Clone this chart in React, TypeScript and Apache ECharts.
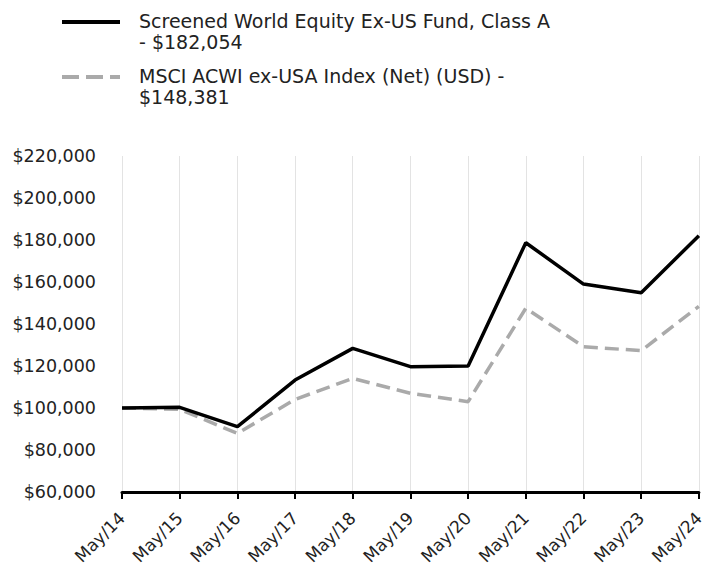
import React, { useEffect, useRef } from "react";
import * as echarts from "echarts";

const categories = ["May/14", "May/15", "May/16", "May/17", "May/18", "May/19", "May/20", "May/21", "May/22", "May/23", "May/24"];
const fundValues = [100000, 100300, 91100, 113300, 128400, 119700, 120000, 178700, 159000, 154900, 182054];
const indexValues = [100000, 99400, 87900, 104100, 114100, 107000, 103000, 147500, 129200, 127300, 148381];
const fundName = "Screened World Equity Ex-US Fund, Class A\n- $182,054";
const indexName = "MSCI ACWI ex-USA Index (Net) (USD) -\n$148,381";

const FONT = "DejaVu Sans";

export default function App() {
  const ref = useRef<HTMLDivElement>(null);
  useEffect(() => {
    if (!ref.current) return;
    const chart = echarts.init(ref.current, undefined, { renderer: "svg" });
    chart.setOption({
      animation: false,
      textStyle: { fontFamily: FONT },
      grid: { left: 122, right: 4, top: 156, bottom: 84, containLabel: false },
      xAxis: {
        type: "category",
        data: categories,
        boundaryGap: false,
        axisLine: { show: true, lineStyle: { color: "#000", width: 3 } },
        axisTick: { show: true, alignWithLabel: true, length: 7, lineStyle: { color: "#000", width: 2 } },
        axisLabel: { rotate: 45, color: "#222", fontSize: 17, fontFamily: FONT, margin: 23 },
        splitLine: { show: true, lineStyle: { color: "#e3e3e3", width: 1 } },
      },
      yAxis: {
        type: "value",
        min: 60000,
        max: 220000,
        interval: 20000,
        axisLine: { show: false },
        axisTick: { show: false },
        splitLine: { show: false },
        axisLabel: {
          color: "#222",
          fontSize: 17.5,
          fontFamily: FONT,
          margin: 26,
          formatter: (v: number) => "$" + v.toLocaleString("en-US"),
        },
      },
      series: [
        {
          name: fundName,
          type: "line",
          data: fundValues,
          symbol: "none",
          lineStyle: { color: "#000", width: 3.5 },
          z: 3,
        },
        {
          name: indexName,
          type: "line",
          data: indexValues,
          symbol: "none",
          lineStyle: { color: "#aaaaaa", width: 3.5, type: [14, 7] },
          z: 2,
        },
      ],
      graphic: [
        { type: "line", shape: { x1: 62, y1: 22, x2: 120, y2: 22 }, style: { stroke: "#000", lineWidth: 4 } },
        {
          type: "text",
          x: 139,
          y: 10,
          style: { text: fundName, fill: "#222", font: `19px '${FONT}'`, lineHeight: 21 },
        },
        { type: "line", shape: { x1: 62, y1: 77, x2: 120, y2: 77 }, style: { stroke: "#aaaaaa", lineWidth: 4, lineDash: [17, 7] } },
        {
          type: "text",
          x: 139,
          y: 65,
          style: { text: indexName, fill: "#222", font: `19px '${FONT}'`, lineHeight: 21 },
        },
      ],
    });
    return () => chart.dispose();
  }, []);
  return <div ref={ref} style={{ width: 707, height: 576, position: "absolute", left: 0, top: 0 }} />;
}
